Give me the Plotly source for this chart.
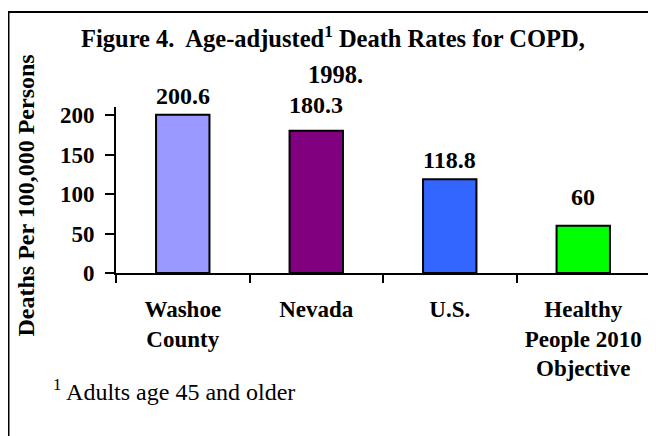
import plotly.graph_objects as go

categories = ["Washoe<br>County", "Nevada", "U.S.", "Healthy<br>People 2010<br>Objective"]
values = [200.6, 180.3, 118.8, 60]
value_labels = ["200.6", "180.3", "118.8", "60"]
y_ticks = [0, 50, 100, 150, 200]

colors = ["#9999FF", "#800080", "#3366FF", "#00FF00"]
label_shift = [4, 11, 4, 14]

FONT = "Liberation Serif"
OFF = 8  # default page margin of the html body
W, H = 656 - OFF, 436 - OFF
ML, MR, MT, MB = 108, 6, 99, 163
PW, PH = W - ML - MR, H - MT - MB


def px_x(p):
    return (p - OFF - ML) / PW


def px_y(p):
    return (H - MB - (p - OFF)) / PH


fig = go.Figure()
fig.add_trace(go.Bar(
    x=categories, y=values, width=0.4,
    marker=dict(color=colors, line=dict(color="black", width=2)),
    hoverinfo="skip",
))

annotations = []
for c, v, t, s in zip(categories, values, value_labels, label_shift):
    annotations.append(dict(
        x=c, y=v, xref="x", yref="y", text="<b>" + t + "</b>", showarrow=False,
        yanchor="bottom", yshift=s,
        font=dict(family=FONT, size=24, color="black"),
    ))

annotations += [
    dict(x=px_x(333), y=px_y(37), xref="paper", yref="paper", showarrow=False,
         text="<b>Figure 4.\u00a0 Age-adjusted<sup>1</sup> Death Rates for COPD,</b>",
         xanchor="center", yanchor="middle",
         font=dict(family=FONT, size=24.5, color="black")),
    dict(x=px_x(335.5), y=px_y(74), xref="paper", yref="paper", showarrow=False,
         text="<b>1998.</b>", xanchor="center", yanchor="middle",
         font=dict(family=FONT, size=24.5, color="black")),
    dict(x=px_x(25), y=px_y(195.5), xref="paper", yref="paper", showarrow=False,
         text="<b>Deaths Per 100,000 Persons</b>", textangle=-90,
         xanchor="center", yanchor="middle",
         font=dict(family=FONT, size=24, color="black")),
    dict(x=px_x(51), y=px_y(390), xref="paper", yref="paper", showarrow=False,
         text="<sup>1</sup> Adults age 45 and older",
         xanchor="left", yanchor="middle",
         font=dict(family=FONT, size=24, color="black")),
]

fig.update_layout(
    width=W, height=H,
    margin=dict(l=ML, r=MR, t=MT, b=MB, pad=0),
    paper_bgcolor="white", plot_bgcolor="white",
    font=dict(family=FONT, color="black"),
    showlegend=False,
    annotations=annotations,
    shapes=[dict(type="rect", xref="paper", yref="paper",
                 x0=px_x(8.5), x1=px_x(680), y0=px_y(460), y1=px_y(12),
                 line=dict(color="black", width=2), fillcolor="rgba(0,0,0,0)",
                 layer="below")],
    xaxis=dict(
        type="category", range=[-0.5, 3.5], tickson="boundaries",
        ticks="outside", ticklen=8, tickwidth=2, tickcolor="black",
        showline=True, linecolor="black", linewidth=2,
        showgrid=False, zeroline=False, fixedrange=True,
        tickmode="array", tickvals=categories,
        ticktext=["<b>" + c + "</b>" for c in categories],
        tickfont=dict(family=FONT, size=23, color="black"),
        ticklabelstandoff=14,
    ),
    yaxis=dict(
        range=[0, 210.5], tickvals=y_ticks, ticktext=["<b>%d</b>" % v for v in y_ticks],
        ticks="outside", ticklen=9, tickwidth=2, tickcolor="black",
        showline=True, linecolor="black", linewidth=2,
        showgrid=False, zeroline=False, fixedrange=True,
        tickfont=dict(family=FONT, size=23, color="black"),
        ticklabelstandoff=6,
    ),
)

fig.write_html("out.html")
